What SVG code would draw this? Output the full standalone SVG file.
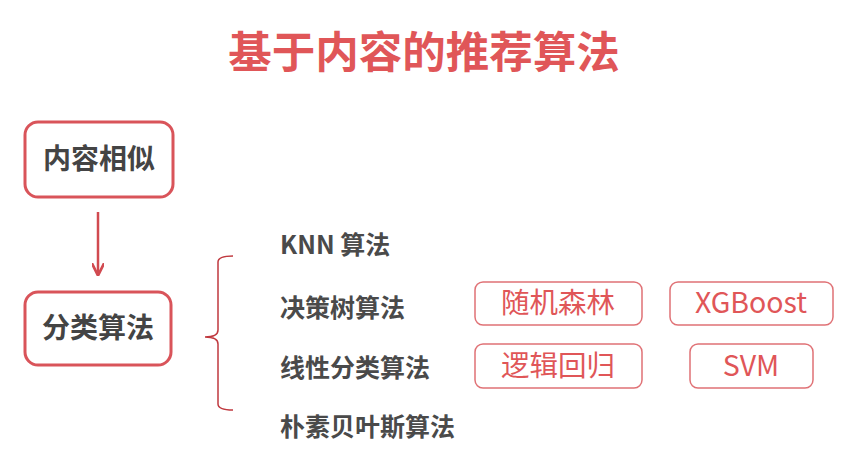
<svg xmlns="http://www.w3.org/2000/svg" width="843" height="467" viewBox="0 0 843 467">
<defs>
<style>
.cjk{font-family:"Noto Sans CJK SC","Noto Sans",sans-serif}
.title{font-size:43.5px;font-weight:bold;fill:#E05658}
.main{fill:#fff;stroke:#D9545A;stroke-width:3}
.mainT{font-size:28px;font-weight:bold;fill:#444}
.item{font-size:25px;font-weight:bold;fill:#4a4a4a}
.sub{fill:#fff;stroke:#E07276;stroke-width:1.5}
.subT{font-size:28.5px;fill:#E05658}
.conn{fill:none;stroke:#D14A50;stroke-width:2.5}
.brace{fill:none;stroke:#C0393F;stroke-width:1.5}
</style>
<marker id="ah" viewBox="0 0 10 10" refX="8" refY="5" markerWidth="5" markerHeight="5" orient="auto"><path d="M0,0 L10,5 L0,10" fill="none" stroke="#D14A50" stroke-width="2.2"/></marker>
</defs>
<rect width="843" height="467" fill="#fff"/>
<text class="cjk title" x="424" y="68" text-anchor="middle">基于内容的推荐算法</text>
<g id="node-content">
<rect class="main" x="25" y="122" width="148" height="75" rx="13"/>
<text class="cjk mainT" x="99" y="169" text-anchor="middle">内容相似</text>
</g>
<g id="node-classify">
<rect class="main" x="25" y="292" width="146" height="73" rx="13"/>
<text class="cjk mainT" x="98" y="338" text-anchor="middle">分类算法</text>
</g>
<g id="connectors">
<line class="conn" x1="98" y1="212" x2="98" y2="273" marker-end="url(#ah)"/>
<path class="brace" d="M233,256 Q218,256 218,262 L218,330 Q218,337 205,337 Q218,337 218,344 L218,404 Q218,410 233,410"/>
</g>
<g id="list">
<text class="cjk item" x="280" y="254">KNN 算法</text>
<text class="cjk item" x="280" y="317">决策树算法</text>
<text class="cjk item" x="280" y="377">线性分类算法</text>
<text class="cjk item" x="280" y="436">朴素贝叶斯算法</text>
</g>
<g id="node-rf">
<rect class="sub" x="475" y="282" width="167" height="43" rx="8"/>
<text class="cjk subT" x="558" y="313" text-anchor="middle">随机森林</text>
</g>
<g id="node-xgb">
<rect class="sub" x="670" y="282" width="163" height="43" rx="8"/>
<text class="cjk subT" x="751" y="313" text-anchor="middle">XGBoost</text>
</g>
<g id="node-lr">
<rect class="sub" x="475" y="344" width="167" height="44" rx="8"/>
<text class="cjk subT" x="558" y="376" text-anchor="middle">逻辑回归</text>
</g>
<g id="node-svm">
<rect class="sub" x="690" y="344" width="123" height="44" rx="8"/>
<text class="cjk subT" x="751" y="376" text-anchor="middle">SVM</text>
</g>
</svg>
